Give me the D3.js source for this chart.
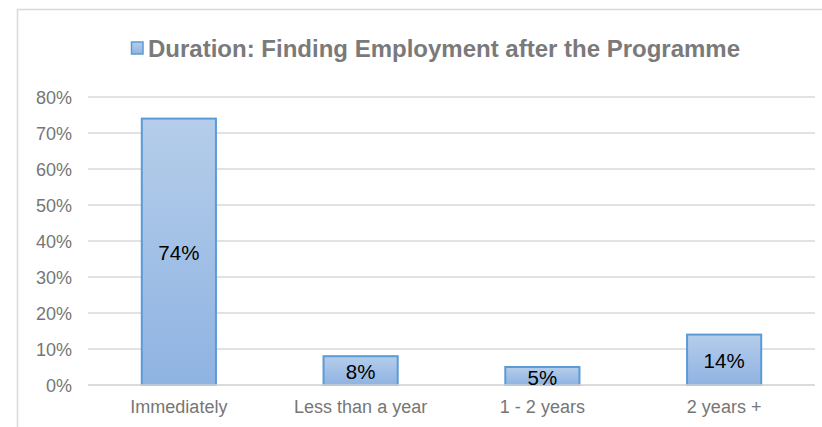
<!DOCTYPE html>
<html>
<head>
<meta charset="utf-8">
<script src="https://cdn.jsdelivr.net/npm/d3@7"></script>
<style>
  html, body { margin: 0; padding: 0; background: #fff; }
  svg { display: block; font-family: Arial, "Liberation Sans", sans-serif; }
</style>
</head>
<body>
<svg id="chart" width="822" height="427"></svg>
<script>
// Survey result: how long graduates took to find employment
const categories = ["Immediately", "Less than a year", "1 - 2 years", "2 years +"];
const shares = [74, 8, 5, 14];
const yTicks = [0, 10, 20, 30, 40, 50, 60, 70, 80];
const seriesName = "Duration: Finding Employment after the Programme";

const svg = d3.select("#chart");
const W = 822, H = 427;
const plot = { left: 88, right: 815, top: 97, bottom: 385 };
const labelGrey = "#767676";

// Gradient used by bars and the legend swatch
const defs = svg.append("defs");
const grad = defs.append("linearGradient")
  .attr("id", "barFill").attr("x1", 0).attr("y1", 0).attr("x2", 0).attr("y2", 1);
grad.append("stop").attr("offset", "0%").attr("stop-color", "#b5cdea");
grad.append("stop").attr("offset", "100%").attr("stop-color", "#8fb3e2");

// Chart-area frame
svg.append("rect")
  .attr("x", 17.5).attr("y", 9.5)
  .attr("width", W + 20).attr("height", H + 20)
  .attr("fill", "#fff").attr("stroke", "#d9d9d9").attr("stroke-width", 1.5);

const x = d3.scaleBand()
  .domain(categories)
  .range([plot.left, plot.right])
  .paddingInner(0.592)
  .paddingOuter(0.296);

const y = d3.scaleLinear()
  .domain([0, 80])
  .range([plot.bottom, plot.top]);

// Horizontal gridlines
svg.append("g")
  .selectAll("line")
  .data(yTicks)
  .join("line")
  .attr("x1", plot.left).attr("x2", plot.right)
  .attr("y1", d => y(d)).attr("y2", d => y(d))
  .attr("stroke", "#d9d9d9").attr("stroke-width", 1.5);

// Y axis labels
const yAxis = d3.axisLeft(y)
  .tickValues(yTicks)
  .tickFormat(d => d + "%")
  .tickSize(0)
  .tickPadding(16);
svg.append("g")
  .attr("transform", `translate(${plot.left},0)`)
  .call(yAxis)
  .call(g => g.select(".domain").remove())
  .call(g => g.selectAll("text")
    .attr("fill", labelGrey)
    .attr("dy", null)
    .attr("dominant-baseline", "central")
    .style("font-size", "18px")
    .style("font-family", "Arial, 'Liberation Sans', sans-serif"));

// Bars
svg.append("g")
  .selectAll("rect")
  .data(shares)
  .join("rect")
  .attr("x", (d, i) => x(categories[i]))
  .attr("y", d => y(d))
  .attr("width", x.bandwidth())
  .attr("height", d => y(0) - y(d))
  .attr("fill", "url(#barFill)")
  .attr("stroke", "#5b9bd5")
  .attr("stroke-width", 2);

// Baseline redrawn over bars
svg.append("line")
  .attr("x1", plot.left).attr("x2", plot.right)
  .attr("y1", y(0)).attr("y2", y(0))
  .attr("stroke", "#d9d9d9").attr("stroke-width", 1.5);

// Value labels, centred in each bar
svg.append("g")
  .selectAll("text")
  .data(shares)
  .join("text")
  .attr("x", (d, i) => x(categories[i]) + x.bandwidth() / 2)
  .attr("y", d => (y(d) + y(0)) / 2 + 1)
  .attr("text-anchor", "middle")
  .attr("dominant-baseline", "central")
  .attr("fill", "#000")
  .style("font-size", "20.5px")
  .text(d => d + "%");

// Category labels
const xAxis = d3.axisBottom(x).tickSize(0).tickPadding(0);
svg.append("g")
  .attr("transform", `translate(0,${plot.bottom})`)
  .call(xAxis)
  .call(g => g.select(".domain").remove())
  .call(g => g.selectAll("text")
    .attr("fill", labelGrey)
    .attr("y", 22)
    .attr("dy", null)
    .attr("dominant-baseline", "central")
    .style("font-size", "18px")
    .style("font-family", "Arial, 'Liberation Sans', sans-serif"));

// Legend-style title
const title = svg.append("g");
title.append("rect")
  .attr("x", 131.5).attr("y", 42)
  .attr("width", 11.5).attr("height", 12)
  .attr("fill", "url(#barFill)")
  .attr("stroke", "#5b9bd5").attr("stroke-width", 1.5);
title.append("text")
  .attr("x", 148).attr("y", 48)
  .attr("dominant-baseline", "central")
  .attr("fill", "#7a7a7a")
  .style("font-size", "24px")
  .style("font-weight", "bold")
  .text(seriesName);
</script>
</body>
</html>
